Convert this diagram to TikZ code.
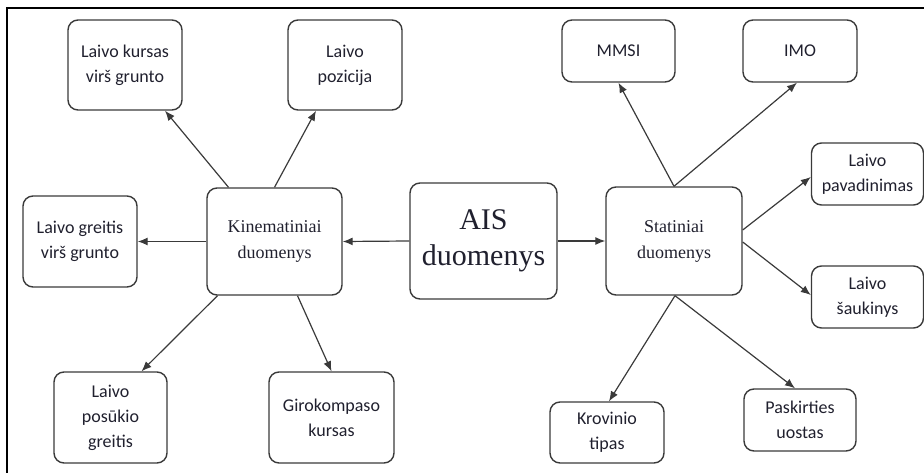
\documentclass[tikz,border=0pt]{standalone}
\usepackage{fontspec}
\setmainfont{Carlito}
\newfontfamily\titlefont{Liberation Serif}
\usetikzlibrary{arrows.meta}
\definecolor{edgegray}{HTML}{3A3A3A}
\definecolor{inkdark}{HTML}{20202E}
\tikzset{
  box/.style={draw=edgegray, line width=1.4pt, rounded corners=10pt,
    inner sep=0pt, align=center, text=inkdark,
    font=\fontsize{18}{25}\selectfont},
  bigbox/.style={box, font=\titlefont\fontsize{18}{26}\selectfont},
  rootbox/.style={box, font=\titlefont\fontsize{30}{36}\selectfont},
  link/.style={draw=edgegray, line width=1.2pt,
    -{Latex[length=10pt,width=8pt]}},
}
\begin{document}
\begin{tikzpicture}[x=1pt, y=-1pt]
  \useasboundingbox (0,0) rectangle (924,473);
  % page frame (left and top edges)
  \draw[line width=2.5pt, black] (7,473) -- (7,8) -- (924,8);

  % centre
  \node[rootbox, minimum width=147pt, minimum height=116pt] (ais) at (483.5,241) {AIS\\duomenys};

  % kinematic branch
  \node[bigbox, minimum width=135pt, minimum height=107pt] (kin) at (274.5,241.5) {Kinematiniai\\duomenys};
  \node[box, minimum width=114pt, minimum height=90pt] (kursas) at (125,65) {Laivo kursas\\virš grunto};
  \node[box, minimum width=114pt, minimum height=90pt] (pozicija) at (345,65) {Laivo\\pozicija};
  \node[box, minimum width=114pt, minimum height=91pt] (greitis) at (80,241.5) {Laivo greitis\\virš grunto};
  \node[box, minimum width=113pt, minimum height=91pt] (posukis) at (110.5,417.5) {Laivo\\posūkio\\greitis};
  \node[box, minimum width=125pt, minimum height=91pt] (giro) at (331.5,417.5) {Girokompaso\\kursas};

  % static branch
  \node[bigbox, minimum width=136pt, minimum height=108pt] (stat) at (674,241) {Statiniai\\duomenys};
  \node[box, minimum width=113pt, minimum height=62pt] (mmsi) at (618.5,51) {MMSI};
  \node[box, minimum width=114pt, minimum height=62pt] (imo) at (800,51) {IMO};
  \node[box, minimum width=112pt, minimum height=62pt] (pav) at (867.5,174) {Laivo\\pavadinimas};
  \node[box, minimum width=112pt, minimum height=62pt] (sauk) at (867.5,297) {Laivo\\šaukinys};
  \node[box, minimum width=114pt, minimum height=61pt] (krov) at (607,432.5) {Krovinio\\tipas};
  \node[box, minimum width=112pt, minimum height=62pt] (pask) at (800,420) {Paskirties\\uostas};

  % connectors
  \draw[link] (ais.west) -- (kin.east);
  \draw[link] (ais.east) -- (stat.west);

  \draw[link] ([xshift=-46pt]kin.north) -- ([xshift=40pt]kursas.south);
  \draw[link] (kin.north) -- ([xshift=-29pt]pozicija.south);
  \draw[link] (kin.west) -- (greitis.east);
  \draw[link] ([xshift=-57pt]kin.south) -- ([xshift=31pt]posukis.north);
  \draw[link] ([xshift=23pt]kin.south) -- (giro.north);

  \draw[link] (stat.north) -- (mmsi.south);
  \draw[link] (stat.north) -- ([xshift=-3pt]imo.south);
  \draw[link] ([yshift=11pt]stat.east) -- ([yshift=-3pt]pav.west);
  \draw[link] ([yshift=-1pt]stat.east) -- ([yshift=2pt]sauk.west);
  \draw[link] ([xshift=1pt]stat.south) -- ([xshift=2pt]krov.north);
  \draw[link] ([xshift=1pt]stat.south) -- ([xshift=-5pt]pask.north);
\end{tikzpicture}
\end{document}
